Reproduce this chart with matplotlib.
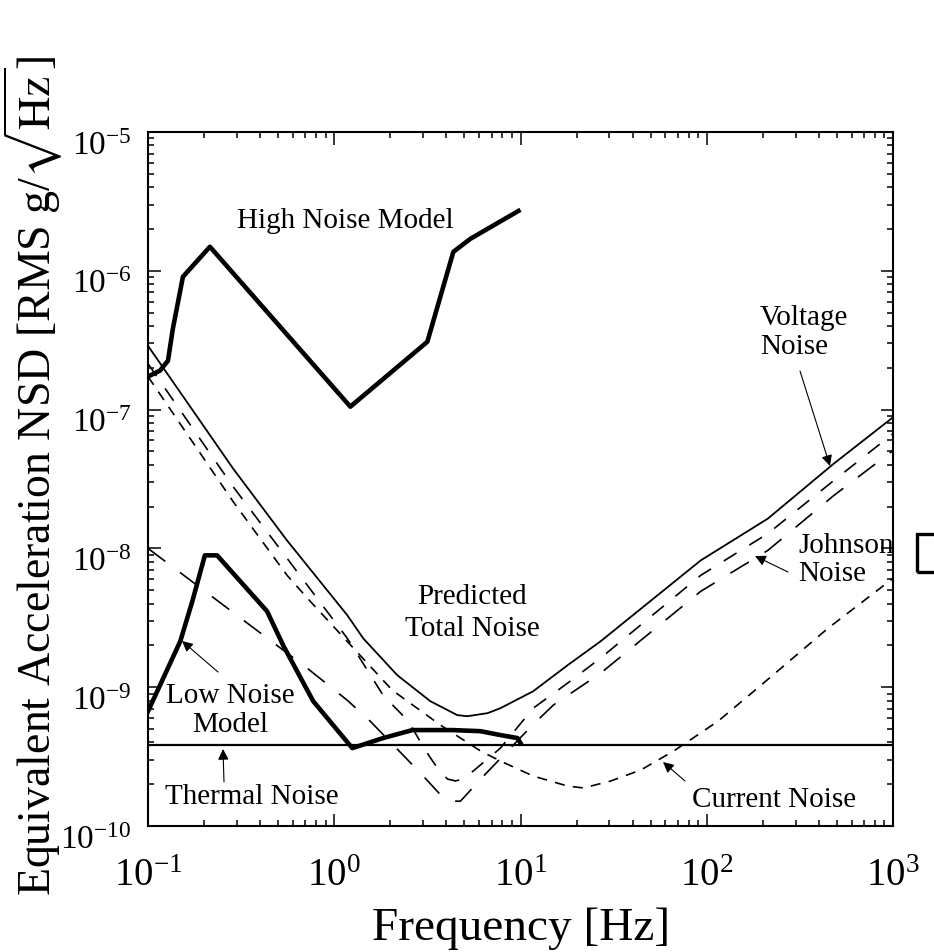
import numpy as np
import matplotlib.pyplot as plt
import matplotlib.transforms as mtransforms
from matplotlib.patches import Rectangle

plt.rcParams['font.family'] = ['Liberation Serif', 'DejaVu Serif']
plt.rcParams['mathtext.fontset'] = 'stix'

# curves (frequency in Hz, NSD in g/rtHz)
total_f = [0.1, 0.286, 0.558, 1.175, 1.43, 2.18, 3.28, 4.58, 5.19, 6.65, 7.8, 11.7, 17.9, 26.9, 92.9, 213, 482, 1000]
total_n = [2.88e-7, 3.77e-8, 1.14e-8, 3.30e-9, 2.25e-9, 1.22e-9, 7.93e-10, 6.29e-10, 6.18e-10, 6.5e-10,
           7.06e-10, 9.35e-10, 1.44e-9, 2.14e-9, 8.20e-9, 1.64e-8, 4.09e-8, 8.8e-8]

volt_f = [0.1, 0.286, 0.558, 1.175, 1.83, 2.50, 3.08, 3.49, 4.05, 4.48, 4.87, 5.58, 7.8, 11.7, 17.9, 26.9, 92.9, 213, 482, 1000]
volt_n = [2.14e-7, 2.79e-8, 8.48e-9, 2.25e-9, 8.75e-10, 5.69e-10, 3.52e-10, 2.75e-10, 2.18e-10, 2.11e-10,
          2.18e-10, 2.49e-10, 3.64e-10, 7.06e-10, 1.07e-9, 1.62e-9, 6.40e-9, 1.28e-8, 3.09e-8, 6.71e-8]

john_f = [0.1, 0.716, 1.175, 1.56, 2.90, 3.86, 4.31, 4.76, 6.33, 11.6, 15.0, 26.9, 92.9, 213, 482, 1000]
john_n = [1.0e-8, 1.37e-9, 8.05e-10, 5.69e-10, 2.41e-10, 1.59e-10, 1.51e-10, 1.51e-10, 2.29e-10, 5.33e-10,
          7.43e-10, 1.26e-9, 4.91e-9, 9.68e-9, 2.41e-8, 5.07e-8]

curr_f = [0.1, 0.286, 0.558, 0.743, 2.05, 3.72, 6.10, 7.8, 11.7, 17.9, 21.8, 30.5, 44.2, 66.5, 115, 195, 448, 1000]
curr_n = [1.73e-7, 2.18e-8, 6.40e-9, 4.16e-9, 9.51e-10, 5.33e-10, 3.47e-10, 2.94e-10, 2.29e-10, 1.94e-10,
          1.88e-10, 2.11e-10, 2.53e-10, 3.47e-10, 5.69e-10, 1.03e-9, 2.66e-9, 6.08e-9]

therm_f = [0.1, 1000]
therm_n = [3.83e-10, 3.83e-10]

high_f = [0.1, 0.116, 0.128, 0.136, 0.154, 0.215, 1.22, 3.16, 4.36, 5.38, 9.75]
high_n = [1.73e-7, 1.91e-7, 2.25e-7, 3.83e-7, 9.06e-7, 1.49e-6, 1.05e-7, 3.08e-7, 1.37e-6, 1.70e-6, 2.70e-6]

low_f = [0.1, 0.149, 0.173, 0.202, 0.235, 0.436, 0.532, 0.771, 1.25, 1.83, 2.63, 4.31, 6.10, 7.8, 9.64, 10.0]
low_n = [6.71e-10, 2.14e-9, 4.16e-9, 8.91e-9, 8.91e-9, 3.52e-9, 2.00e-9, 7.93e-10, 3.64e-10, 4.30e-10,
         4.91e-10, 4.91e-10, 4.82e-10, 4.52e-10, 4.30e-10, 3.95e-10]

W, H = 934, 953
fig = plt.figure(figsize=(W / 100, H / 100), dpi=100)
ax = fig.add_axes([148 / W, 1 - 827 / H, 745 / W, 694 / H])


def pos(x, y):
    # picture pixel -> axes fraction (only for text / arrow placement)
    return ((x - 148) / 745, (827 - y) / 694)


ax.plot(total_f, total_n, color='k', lw=1.3)
ax.plot(volt_f, volt_n, color='k', lw=1.2, ls=(0, (9, 9)))
ax.plot(john_f, john_n, color='k', lw=1.2, ls=(0, (13, 11)))
ax.plot(curr_f, curr_n, color='k', lw=1.2, ls=(0, (6, 5)))
ax.plot(therm_f, therm_n, color='k', lw=1.6)
ax.plot(high_f, high_n, color='k', lw=3.3, solid_joinstyle='round')
ax.plot(low_f, low_n, color='k', lw=3.3, solid_joinstyle='round')

ax.set_xscale('log')
ax.set_yscale('log')
ax.set_xlim(0.1, 1000)
ax.set_ylim(1e-10, 1e-5)
ax.tick_params(which='both', direction='in', top=True, right=True, width=1.1)
ax.tick_params(which='major', length=9)
ax.tick_params(which='minor', length=4.5)
ax.tick_params(axis='x', which='major', labelsize=28, pad=22)
ax.tick_params(axis='y', which='major', labelsize=24, pad=12)
for s in ax.spines.values():
    s.set_linewidth(1.5)
shift = mtransforms.ScaledTranslation(0, -7 / 72, fig.dpi_scale_trans)
for lab in ax.get_yticklabels():
    lab.set_transform(lab.get_transform() + shift)

fs = 21
ax.text(*pos(345, 221), 'High Noise Model', transform=ax.transAxes, fontsize=fs, ha='center', va='center')
ax.text(*pos(760, 333), 'Voltage\nNoise', transform=ax.transAxes, fontsize=fs, ha='left', va='center',
        linespacing=1.15)
ax.text(*pos(472, 613), 'Predicted\nTotal Noise', transform=ax.transAxes, fontsize=fs, ha='center',
        va='center', linespacing=1.3)
ax.text(*pos(798, 560), 'Johnson\nNoise', transform=ax.transAxes, fontsize=fs, ha='left', va='center',
        linespacing=1.1)
ax.text(*pos(774, 800), 'Current Noise', transform=ax.transAxes, fontsize=fs, ha='center', va='center')
ax.text(*pos(252, 797), 'Thermal Noise', transform=ax.transAxes, fontsize=fs, ha='center', va='center')
ax.text(*pos(230, 711), 'Low Noise\nModel', transform=ax.transAxes, fontsize=fs, ha='center', va='center',
        linespacing=1.15)

arrows = [((800, 372), (830, 467)), ((788, 573), (755, 557)), ((685, 782), (663, 763)),
          ((224, 783), (223, 750)), ((218, 673), (182, 642))]
for tail, tip in arrows:
    ax.annotate('', xy=pos(*tip), xycoords='axes fraction', xytext=pos(*tail), textcoords='axes fraction',
                arrowprops=dict(arrowstyle='-|>', color='k', lw=0.8, mutation_scale=16, shrinkA=0, shrinkB=0))

fig.text(33 / W, 1 - 476 / H, r'Equivalent Acceleration NSD [RMS g/$\sqrt{\mathrm{Hz}}$]', rotation=90,
         ha='center', va='center', fontsize=33)
fig.text(521 / W, 1 - 940 / H, 'Frequency [Hz]', ha='center', va='baseline', fontsize=34)

fig.patches.append(Rectangle((917 / W, 1 - 573 / H), 40 / W, 38 / H, transform=fig.transFigure,
                             fill=False, lw=2.4, ec='k'))

fig.savefig('out.png', dpi=100)
